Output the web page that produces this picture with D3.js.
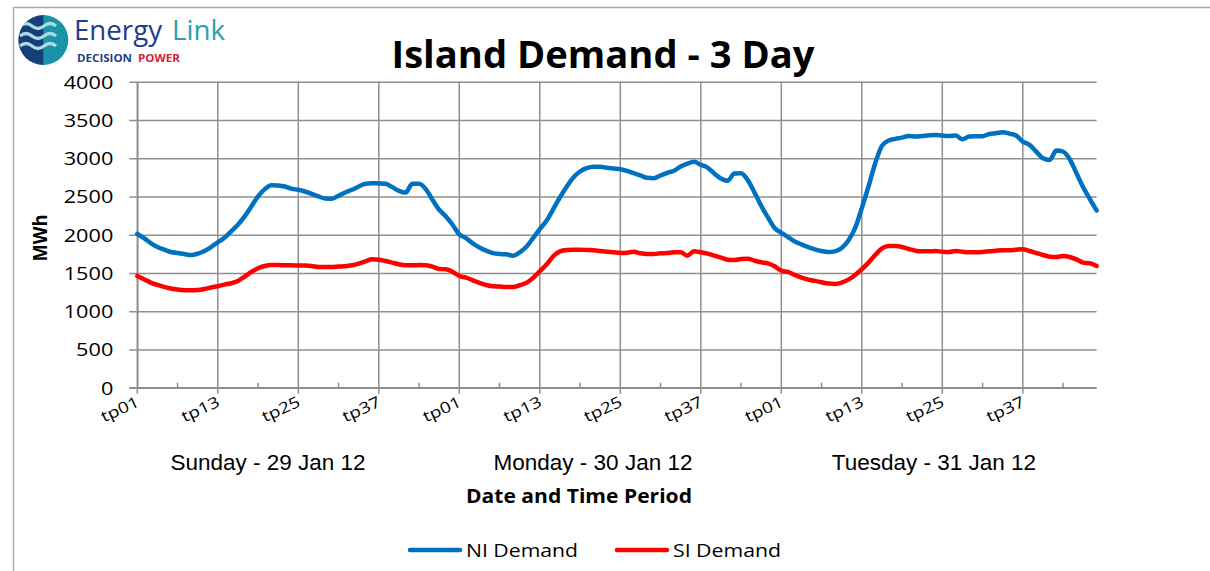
<!DOCTYPE html>
<html>
<head>
<meta charset="utf-8">
<script src="https://cdn.jsdelivr.net/npm/d3@7"></script>
<style>
  html, body { margin: 0; padding: 0; background: #fff; }
  svg { display: block; }
</style>
</head>
<body>
<svg id="chart" width="1210" height="571"></svg>
<script>
// ---------- DATA ----------
const days = ["Sunday - 29 Jan 12", "Monday - 30 Jan 12", "Tuesday - 31 Jan 12"];
const periodsPerDay = 48;
const tickLabels = ["tp01", "tp13", "tp25", "tp37"];
const yTicks = [0, 500, 1000, 1500, 2000, 2500, 3000, 3500, 4000];

const niSunday = [2010,1956,1891,1839,1804,1774,1760,1747,1734,1752,1787,1839,
                  1900,1961,2043,2130,2239,2370,2500,2596,2648,2644,2630,2600,
                  2587,2565,2535,2500,2474,2470,2509,2552,2587,2630,2665,2674,
                  2670,2665,2622,2574,2552,2665,2665,2596,2457,2326,2239,2130];
const niMonday = [2005,1956,1886,1834,1791,1760,1747,1743,1725,1769,1843,1956,
                  2073,2182,2334,2487,2626,2748,2826,2869,2887,2887,2874,2865,
                  2856,2835,2804,2774,2743,2739,2774,2809,2835,2891,2930,2952,
                  2913,2878,2800,2735,2704,2800,2804,2713,2552,2378,2226,2087];
const niTuesday = [2025,1969,1912,1873,1838,1808,1786,1773,1782,1825,1925,2086,
                   2347,2630,2935,3161,3230,3252,3269,3291,3283,3291,3300,3304,
                   3296,3291,3296,3248,3283,3287,3287,3317,3326,3339,3322,3296,
                   3217,3174,3087,3000,2978,3100,3087,2987,2804,2621,2465,2317];

const siSunday = [1461,1417,1374,1343,1317,1296,1283,1274,1274,1278,1291,1309,
                  1326,1348,1365,1396,1452,1513,1561,1591,1604,1604,1600,1600,
                  1596,1596,1591,1578,1578,1578,1583,1587,1600,1622,1652,1678,
                  1674,1656,1635,1613,1600,1600,1604,1600,1583,1552,1548,1517];
const siMonday = [1460,1439,1404,1370,1343,1326,1322,1317,1317,1339,1370,1435,
                  1522,1609,1718,1783,1800,1804,1804,1800,1796,1787,1778,1770,
                  1761,1765,1778,1757,1748,1748,1757,1761,1770,1770,1726,1783,
                  1770,1752,1726,1700,1674,1670,1683,1687,1661,1639,1626,1587];
const siTuesday = [1530,1513,1474,1439,1413,1396,1378,1361,1357,1374,1413,1474,
                   1548,1635,1735,1822,1852,1852,1839,1813,1791,1783,1783,1787,
                   1778,1774,1787,1778,1770,1770,1774,1783,1791,1796,1796,1804,
                   1809,1787,1761,1735,1713,1709,1722,1709,1678,1635,1626,1591];

const seriesNames = ["NI Demand", "SI Demand"];
const seriesColors = ["#0070C0", "#FF0000"];

// ---------- BUILD ----------
const ni = [...niSunday, ...niMonday, ...niTuesday];
const si = [...siSunday, ...siMonday, ...siTuesday];
const series = [ni, si];
const nPts = ni.length;

const svg = d3.select("#chart");

const x = d3.scaleLinear().domain([0, nPts - 1]).range([137.3, 1096.6]);
const y = d3.scaleLinear().domain([0, 4000]).range([387.7, 81.7]);

const gridColor = "#8f8f8f";

// frame
svg.append("line").attr("x1", 13).attr("x2", 1210).attr("y1", 7.5).attr("y2", 7.5)
  .attr("stroke", "#a6a6a6").attr("stroke-width", 1.3);
svg.append("line").attr("x1", 13.5).attr("x2", 13.5).attr("y1", 7).attr("y2", 571)
  .attr("stroke", "#a6a6a6").attr("stroke-width", 1.3);

// horizontal gridlines + y ticks
const yAxis = d3.axisLeft(y).tickValues(yTicks).tickFormat(d3.format("d"))
  .tickSize(-(x.range()[1] - x.range()[0])).tickSizeOuter(0).tickPadding(24);
const gy = svg.append("g").attr("transform", `translate(${x.range()[0]},0)`).call(yAxis);
gy.select(".domain").attr("stroke", gridColor).attr("stroke-width", 1.5);
gy.selectAll(".tick line").attr("stroke", gridColor).attr("stroke-width", 1.5).attr("x2", x.range()[1] - x.range()[0]).attr("x1", -8);
gy.selectAll(".tick text")
  .attr("font-family", "'Open Sans', sans-serif").attr("font-size", 18).attr("fill", "#000")
  .attr("x", -24).attr("dy", "0.36em")
  .each(function(d) {
    const s = String(d);
    d3.select(this).attr("textLength", 12.4 * s.length).attr("lengthAdjust", "spacingAndGlyphs");
  });

// vertical gridlines (major) and minor ticks
const majorIdx = d3.range(0, nPts, 12);
const minorIdx = d3.range(6, nPts, 12);
svg.append("g").selectAll("line").data(majorIdx).join("line")
  .attr("x1", d => x(d)).attr("x2", d => x(d))
  .attr("y1", y(4000)).attr("y2", y(0) + 6)
  .attr("stroke", gridColor).attr("stroke-width", 1.5);
svg.append("g").selectAll("line").data(minorIdx).join("line")
  .attr("x1", d => x(d)).attr("x2", d => x(d))
  .attr("y1", y(0) - 5).attr("y2", y(0))
  .attr("stroke", gridColor).attr("stroke-width", 1.5);
// x axis line
svg.append("line").attr("x1", x.range()[0] - 8).attr("x2", x.range()[1])
  .attr("y1", y(0)).attr("y2", y(0)).attr("stroke", gridColor).attr("stroke-width", 1.5);

// x tick labels
svg.append("g").selectAll("text").data(majorIdx).join("text")
  .attr("transform", d => `translate(${x(d) + 3},${y(0) + 18}) rotate(-25)`)
  .attr("text-anchor", "end")
  .attr("font-family", "'Open Sans', sans-serif").attr("font-size", 15.5)
  .attr("textLength", 40).attr("lengthAdjust", "spacingAndGlyphs")
  .text(d => tickLabels[(d % periodsPerDay) / 12]);

// day labels
const dayCenters = [268, 593, 934];
svg.append("g").selectAll("text").data(days).join("text")
  .attr("x", (d, i) => dayCenters[i]).attr("y", 470)
  .attr("text-anchor", "middle")
  .attr("font-family", "'Liberation Sans', Arial, sans-serif").attr("font-size", 22.5)
  .text(d => d);

// axis titles
svg.append("text").attr("x", 579).attr("y", 503).attr("text-anchor", "middle")
  .attr("font-family", "'Open Sans', sans-serif").attr("font-weight", "bold").attr("font-size", 19)
  .attr("textLength", 226).attr("lengthAdjust", "spacingAndGlyphs")
  .text("Date and Time Period");
svg.append("text").attr("transform", "translate(47,238) rotate(-90)").attr("text-anchor", "middle")
  .attr("font-family", "'Open Sans', sans-serif").attr("font-weight", "bold").attr("font-size", 19)
  .attr("textLength", 47).attr("lengthAdjust", "spacingAndGlyphs")
  .text("MWh");

// title
svg.append("text").attr("x", 603).attr("y", 68).attr("text-anchor", "middle")
  .attr("font-family", "'Open Sans', sans-serif").attr("font-weight", "bold").attr("font-size", 38)
  .attr("textLength", 423).attr("lengthAdjust", "spacingAndGlyphs")
  .text("Island Demand - 3 Day");

// lines
const line = d3.line().x((d, i) => x(i)).y(d => y(d)).curve(d3.curveMonotoneX);
svg.append("g").selectAll("path").data(series).join("path")
  .attr("d", d => line(d))
  .attr("fill", "none")
  .attr("stroke", (d, i) => seriesColors[i])
  .attr("stroke-width", 4.5)
  .attr("stroke-linejoin", "round").attr("stroke-linecap", "round");

// legend
const legendPos = [{lx: 410, tx: 466, tl: 112}, {lx: 617, tx: 673, tl: 108}];
const lg = svg.append("g").selectAll("g").data(seriesNames).join("g");
lg.append("line")
  .attr("x1", (d, i) => legendPos[i].lx).attr("x2", (d, i) => legendPos[i].lx + 50)
  .attr("y1", 550).attr("y2", 550)
  .attr("stroke", (d, i) => seriesColors[i]).attr("stroke-width", 4.5).attr("stroke-linecap", "round");
lg.append("text")
  .attr("x", (d, i) => legendPos[i].tx).attr("y", 557)
  .attr("font-family", "'Open Sans', sans-serif").attr("font-size", 19)
  .attr("textLength", (d, i) => legendPos[i].tl).attr("lengthAdjust", "spacingAndGlyphs")
  .text(d => d);

// logo
const logo = svg.append("g");
logo.append("clipPath").attr("id", "lc").append("circle").attr("cx", 43.3).attr("cy", 40).attr("r", 25);
const lgc = logo.append("g").attr("clip-path", "url(#lc)");
lgc.append("rect").attr("x", 18).attr("y", 15).attr("width", 26).attr("height", 50).attr("fill", "#173e78");
lgc.append("rect").attr("x", 43.3).attr("y", 15).attr("width", 26).attr("height", 50).attr("fill", "#1b93a6");
[26, 36, 46].forEach(yy => {
  lgc.append("path")
    .attr("d", `M20,${yy} q6,-5 12,0 t12,0 t12,0`)
    .attr("fill", "none").attr("stroke", "#a9dce4").attr("stroke-width", 3.2);
});
logo.append("text").attr("x", 74).attr("y", 40)
  .attr("font-family", "'Open Sans', sans-serif").attr("font-size", 27).attr("fill", "#1f3c88")
  .attr("textLength", 88).attr("lengthAdjust", "spacingAndGlyphs").text("Energy");
logo.append("text").attr("x", 172).attr("y", 40)
  .attr("font-family", "'Open Sans', sans-serif").attr("font-size", 27).attr("fill", "#2a9fb0")
  .attr("textLength", 53).attr("lengthAdjust", "spacingAndGlyphs").text("Link");
logo.append("text").attr("x", 77).attr("y", 62)
  .attr("font-family", "'Open Sans', sans-serif").attr("font-size", 10).attr("font-weight", "bold").attr("fill", "#1f3c88")
  .attr("textLength", 55).attr("lengthAdjust", "spacingAndGlyphs").text("DECISION");
logo.append("text").attr("x", 138).attr("y", 62)
  .attr("font-family", "'Open Sans', sans-serif").attr("font-size", 10).attr("font-weight", "bold").attr("fill", "#d81e2c")
  .attr("textLength", 42).attr("lengthAdjust", "spacingAndGlyphs").text("POWER");
</script>
</body>
</html>
